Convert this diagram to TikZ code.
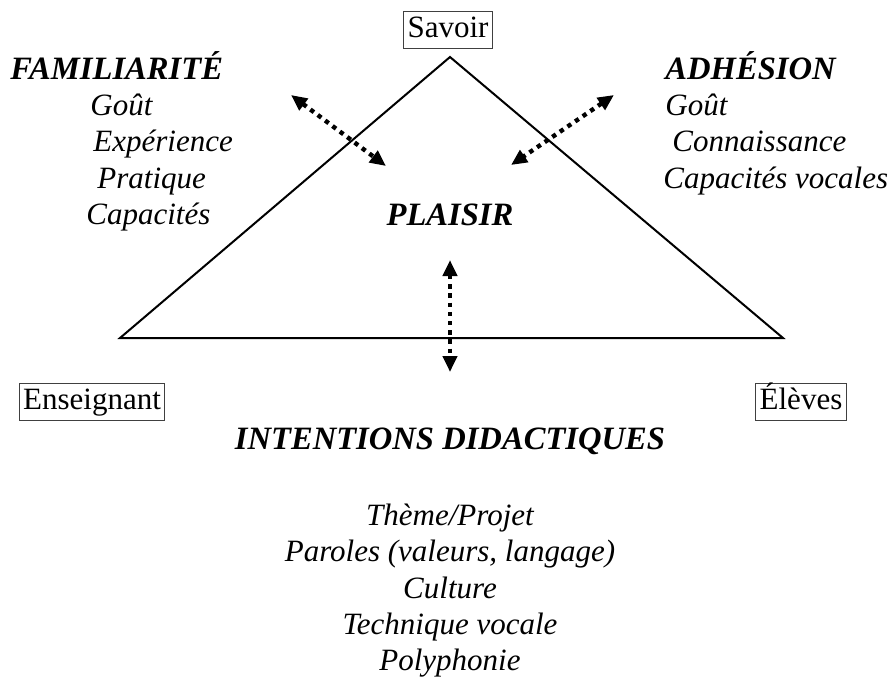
\documentclass[tikz,border=0pt]{standalone}
\usepackage{fontspec}
\setmainfont{Liberation Serif}
\usetikzlibrary{arrows.meta}

\begin{document}
\begin{tikzpicture}[x=0.5pt,y=-0.5pt,
  every node/.style={text height=11pt,text depth=3.5pt},
  font=\fontsize{15.5}{18}\selectfont,
  pole/.style={draw=black!75,line width=0.6pt,inner sep=2pt,outer sep=0pt},
  titre/.style={font=\fontsize{16.3}{18}\selectfont\bfseries\itshape,inner sep=0pt},
  item/.style={font=\fontsize{15.5}{18}\selectfont\itshape,inner sep=0pt},
  lien/.style={line width=2.2pt,dash pattern=on 2.2pt off 2.4pt,{Triangle[length=8pt,width=7pt]}-{Triangle[length=8pt,width=7pt]}}]
  \useasboundingbox (0,0) rectangle (895,677);

  % triangle
  \coordinate (sommet) at (450,57);
  \coordinate (gauche) at (120,338);
  \coordinate (droite) at (783,338);
  \draw[line width=1pt] (sommet) -- (gauche) -- (droite) -- cycle;

  \node[pole] (savoir) at (448,30) {Savoir};
  \node[pole] (ens) at (92,402) {Enseignant};
  \node[pole] (eleves) at (801,402) {Élèves};

  % familiarite
  \node[titre,right] (fam) at (10,72) {FAMILIARITÉ};
  \node[item,right] (goutF) at (90,108) {Goût};
  \node[item,right] (exp) at (93,144) {Expérience};
  \node[item,right] (prat) at (97,181) {Pratique};
  \node[item,right] (capa) at (86,217) {Capacités};

  % adhesion
  \node[titre,right] (adh) at (665,72) {ADHÉSION};
  \node[item,right] (goutA) at (665,108) {Goût};
  \node[item,right] (conn) at (672,144) {Connaissance};
  \node[item,right] (capv) at (663,181) {Capacités vocales};

  \node[titre] (plaisir) at (450,218) {PLAISIR};

  % fleches
  \coordinate (fA) at (291,95);
  \coordinate (fB) at (386,166);
  \coordinate (aA) at (614,95);
  \coordinate (aB) at (511,165);
  \coordinate (vA) at (450,260);
  \coordinate (vB) at (450,372);
  \draw[lien] (fA) -- (fB);
  \draw[lien] (aA) -- (aB);
  \draw[lien] (vA) -- (vB);

  % intentions
  \node[titre] (int) at (450,442) {INTENTIONS DIDACTIQUES};
  \node[item] (theme) at (450,518) {Thème/Projet};
  \node[item] (paroles) at (450,554) {Paroles (valeurs, langage)};
  \node[item] (cult) at (450,591) {Culture};
  \node[item] (tech) at (450,627) {Technique vocale};
  \node[item] (poly) at (450,663) {Polyphonie};
\end{tikzpicture}
\end{document}
